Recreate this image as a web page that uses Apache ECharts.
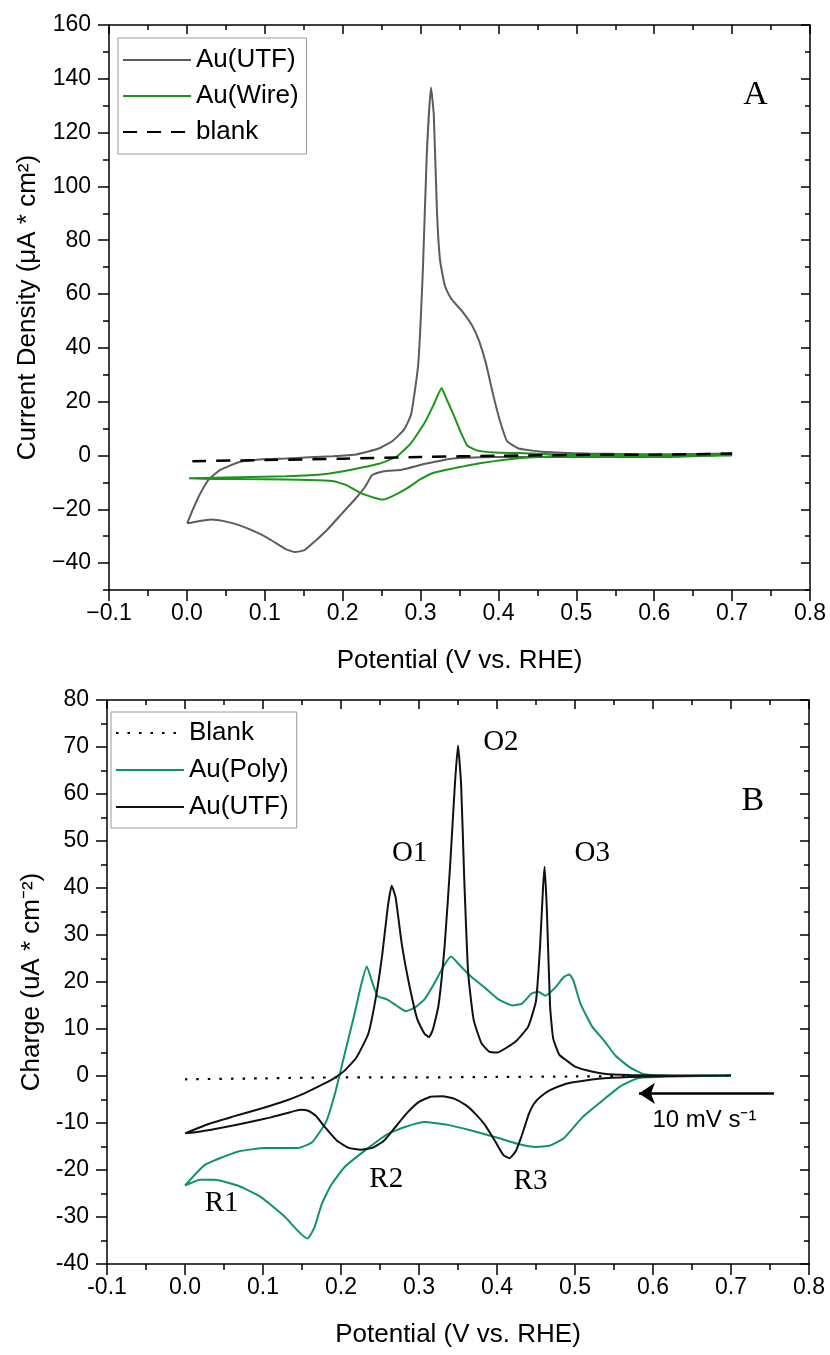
<!DOCTYPE html>
<html>
<head>
<meta charset="utf-8">
<script src="https://cdn.jsdelivr.net/npm/echarts@6/dist/echarts.min.js"></script>
<style>
html,body{margin:0;padding:0;background:#fff;}
#chart{width:830px;height:1355px;}
</style>
</head>
<body>
<div id="chart"></div>
<script>
// ---------- data ----------
const xTicks = [-0.1, 0.0, 0.1, 0.2, 0.3, 0.4, 0.5, 0.6, 0.7, 0.8];
const yTicksA = [-40, -20, 0, 20, 40, 60, 80, 100, 120, 140, 160];
const yTicksB = [-40, -30, -20, -10, 0, 10, 20, 30, 40, 50, 60, 70, 80];

const legendA = ['Au(UTF)', 'Au(Wire)', 'blank'];
const legendB = ['Blank', 'Au(Poly)', 'Au(UTF) '];

// Panel A : Au(UTF) loop (anodic then cathodic)
const utfA = [[0.0004,-25.2],[0.0075,-20.2],[0.0165,-14.5],[0.0284,-8.8],[0.0434,-5.3],[0.0673,-2.4],[0.0971,-1.4],[0.127,-1.1],[0.157,-0.7],[0.187,-0.3],[0.217,0.4],[0.2465,2.6],[0.264,5.4],[0.279,9.7],[0.288,15.4],[0.297,33.8],[0.303,69.2],[0.308,111.9],[0.3134,136.8],[0.317,126.6],[0.321,91.1],[0.325,72.6],[0.331,63.4],[0.339,58.4],[0.345,56.3],[0.354,53.4],[0.366,48.4],[0.375,42.7],[0.384,34.2],[0.393,22.8],[0.402,12.8],[0.411,5.4],[0.426,2.6],[0.456,1.4],[0.515,0.7],[0.605,0.4],[0.699,0.7],
  [0.699,0.4],[0.605,-0.6],[0.485,-0.6],[0.396,-0.6],[0.342,-1.1],[0.306,-3.1],[0.276,-5.3],[0.258,-5.7],[0.2465,-6.3],[0.2375,-7.4],[0.2286,-11.7],[0.2166,-16],[0.1987,-21.7],[0.1808,-27.4],[0.1628,-32.3],[0.1509,-35.2],[0.139,-35.9],[0.127,-34.8],[0.109,-31.6],[0.091,-28.8],[0.067,-25.9],[0.049,-24.5],[0.031,-23.8],[0.0135,-24.5],[0.0004,-25.2]];

// Panel A : Au(Wire) loop
const wireA = [[0.0027,-8.5],[0.067,-8.1],[0.127,-7.7],[0.175,-7],[0.211,-5.3],[0.2465,-3.1],[0.27,-0.3],[0.288,4.7],[0.306,12.5],[0.318,19.6],[0.327,25.1],[0.333,21.2],[0.342,15.4],[0.351,9],[0.36,3.7],[0.372,1.9],[0.396,1.1],[0.426,0.9],[0.485,0.3],[0.699,0.3],
  [0.699,0],[0.485,-0.3],[0.426,-1],[0.378,-2.8],[0.342,-4.8],[0.318,-6.3],[0.3,-8.8],[0.282,-12.3],[0.264,-15.1],[0.2524,-16.4],[0.2405,-15.7],[0.2226,-13.9],[0.2047,-11],[0.1867,-9.5],[0.157,-9.1],[0.097,-8.8],[0.037,-8.7],[0.0027,-8.5]];

// Panel A : blank
const blankA = [[0.007,-2.1],[0.1,-1.7],[0.2,-1.2],[0.3,-0.6],[0.4,-0.1],[0.5,0.2],[0.6,0.3],[0.7,0.7]];

// Panel B : blank
const blankB = [[0.0,-0.7],[0.1,-0.5],[0.2,-0.3],[0.3,-0.3],[0.4,-0.2],[0.5,-0.1],[0.6,0],[0.7,0]];

// Panel B : Au(Poly) loop
const polyB = [[0.0,-23.3],[0.0256,-18.9],[0.0675,-16.1],[0.103,-15.3],[0.145,-15.3],[0.163,-14.1],[0.181,-9.7],[0.193,-3.3],[0.205,4.9],[0.217,13],[0.226,19.5],[0.233,23.3],[0.241,19.5],[0.247,17],[0.259,16.3],[0.271,15],[0.283,13.8],[0.295,14.6],[0.307,16.3],[0.319,19.5],[0.331,23.2],[0.341,25.4],[0.352,23.6],[0.367,21.1],[0.385,18.7],[0.402,16.3],[0.42,15],[0.432,15.4],[0.444,17.5],[0.453,17.9],[0.462,17.1],[0.474,18.7],[0.486,21.1],[0.493,21.6],[0.498,20.3],[0.507,15.4],[0.522,10.5],[0.537,7.6],[0.552,4.3],[0.57,1.9],[0.588,0.4],[0.636,0],[0.7,0.1],
  [0.7,0],[0.582,-0.4],[0.558,-2.2],[0.534,-5.4],[0.51,-8.7],[0.486,-13.2],[0.468,-14.8],[0.45,-15.1],[0.426,-14.4],[0.402,-13.2],[0.367,-11.6],[0.337,-10.4],[0.307,-9.8],[0.283,-10.8],[0.259,-12.4],[0.235,-15.3],[0.205,-19.3],[0.187,-23.3],[0.175,-27.4],[0.166,-32.2],[0.157,-34.6],[0.145,-33],[0.127,-29.8],[0.097,-25.7],[0.0675,-23.3],[0.0376,-22.1],[0.0196,-22.1],[0.0,-23.3]];

// Panel B : Au(UTF) loop
const utfB = [[0.0,-12.2],[0.03,-10.2],[0.06,-8.7],[0.1,-6.8],[0.13,-5.2],[0.15,-3.9],[0.17,-2.3],[0.19,-0.6],[0.205,1.2],[0.22,4],[0.235,9],[0.245,17],[0.253,26],[0.26,36],[0.265,40.5],[0.27,38],[0.278,28],[0.288,19],[0.298,12],[0.307,9],[0.313,8.3],[0.318,10],[0.325,15],[0.333,28],[0.34,45],[0.346,62],[0.35,70.3],[0.354,62],[0.358,42],[0.363,22],[0.37,12],[0.38,7],[0.39,5.2],[0.40,5],[0.41,5.8],[0.425,7.5],[0.44,10.5],[0.45,16],[0.455,27],[0.459,40],[0.461,44.5],[0.464,35],[0.468,15],[0.472,8],[0.48,4.5],[0.49,3.2],[0.5,2],[0.52,1],[0.54,0.4],[0.57,0.2],[0.6,0.1],[0.65,0.1],[0.7,0.1],
  [0.7,0.05],[0.62,0],[0.57,-0.2],[0.53,-0.6],[0.5,-1.3],[0.486,-1.8],[0.468,-3],[0.455,-4.5],[0.447,-6],[0.441,-8],[0.436,-10.5],[0.43,-13.5],[0.424,-16],[0.416,-17.5],[0.408,-16.8],[0.398,-14],[0.385,-10.5],[0.372,-8],[0.36,-6.2],[0.345,-4.8],[0.33,-4.3],[0.315,-4.4],[0.3,-5.5],[0.285,-7.8],[0.27,-10.8],[0.255,-13.8],[0.24,-15.3],[0.225,-15.7],[0.21,-15.3],[0.195,-13.8],[0.18,-11],[0.168,-8.5],[0.158,-7.4],[0.148,-7.2],[0.135,-7.7],[0.11,-8.8],[0.08,-9.9],[0.05,-10.9],[0.02,-11.8],[0.0,-12.2]];

// annotations (data coordinates)
const annotA = [{t:'A', x:0.730, y:134}];
const annotB = [{t:'O1', x:0.288, y:47.4},{t:'O2', x:0.405, y:71},{t:'O3', x:0.522, y:47.4},{t:'B', x:0.728, y:58.4},
                {t:'R1', x:0.047, y:-27.2},{t:'R2', x:0.258, y:-22},{t:'R3', x:0.443, y:-22.4}];
const rateLabel = {t:'10 mV s\u207B\u00B9', x:0.666, y:-9.5};
const arrowB = {x0:0.755, x1:0.582, y:-3.7};

// ---------- chart ----------
const FONT = 'Liberation Sans';
const SERIF = 'Liberation Serif';
const BLACK = '#000';
const fmtMinus = v => { const s = Math.abs(v) < 1e-9 ? '0' : String(Math.round(v)); return s.replace('-', '\u2212'); };
const fmtXA = v => { const s = Math.abs(v) < 1e-9 ? '0.0' : v.toFixed(1); return s.replace('-', '\u2212'); };
const fmtXB = v => Math.abs(v) < 1e-9 ? '0.0' : v.toFixed(1);
const fmtYB = v => Math.abs(v) < 1e-9 ? '0' : String(Math.round(v));

const lineS = {color: BLACK, width: 1.5};
const labelBase = {color: BLACK, fontFamily: FONT, fontSize: 23, showMinLabel: true, showMaxLabel: true};

function xAxes(grid, fmt) {
  return [
    {gridIndex: grid, type: 'value', position: 'bottom', min: -0.1, max: 0.8, interval: 0.1,
     axisLine: {onZero: false, lineStyle: lineS},
     axisTick: {inside: false, length: 11, lineStyle: lineS},
     minorTick: {show: true, splitNumber: 2, length: 6, lineStyle: lineS},
     axisLabel: Object.assign({margin: 12, formatter: fmt}, labelBase),
     splitLine: {show: false}, minorSplitLine: {show: false},
     name: 'Potential (V vs. RHE)', nameLocation: 'middle', nameGap: 58,
     nameTextStyle: {color: BLACK, fontFamily: FONT, fontSize: 26}},
    {gridIndex: grid, type: 'value', position: 'top', min: -0.1, max: 0.8, interval: 0.1,
     axisLine: {onZero: false, lineStyle: lineS},
     axisTick: {inside: true, length: 9, lineStyle: lineS},
     minorTick: {show: true, splitNumber: 2, length: 5, lineStyle: lineS},
     axisLabel: {show: false}, splitLine: {show: false}, minorSplitLine: {show: false}}
  ];
}

const legendCommon = {orient: 'vertical', itemWidth: 68, itemHeight: 14, borderColor: '#9a9a9a', borderWidth: 1,
  selectedMode: false, itemStyle: {opacity: 0, borderWidth: 0},
  textStyle: {color: BLACK, fontFamily: FONT, fontSize: 26, lineHeight: 30}};

const option = {
  animation: false,
  backgroundColor: '#fff',
  grid: [
    {left: 109, right: 20, top: 25, height: 565, containLabel: false, outerBoundsMode: 'none'},
    {left: 107, right: 21, top: 700, height: 564, containLabel: false, outerBoundsMode: 'none'}
  ],
  xAxis: [].concat(xAxes(0, fmtXA), xAxes(1, fmtXB)),
  yAxis: [
    // panel A
    {gridIndex: 0, type: 'value', position: 'left', min: -50, max: 160,
     axisLine: {onZero: false, lineStyle: lineS},
     axisTick: {inside: false, length: 11, customValues: yTicksA, lineStyle: lineS},
     axisLabel: Object.assign({margin: 18, customValues: yTicksA, formatter: fmtMinus}, labelBase),
     splitLine: {show: false},
     name: 'Current Density (\u03BCA * cm\u00B2)', nameLocation: 'middle', nameGap: 62,
     nameTextStyle: {color: BLACK, fontFamily: FONT, fontSize: 26}},
    {gridIndex: 0, type: 'value', position: 'left', min: -50, max: 160, interval: 10,
     axisLine: {show: false, onZero: false}, axisTick: {inside: false, length: 6, lineStyle: lineS},
     axisLabel: {show: false}, splitLine: {show: false}},
    {gridIndex: 0, type: 'value', position: 'right', min: -50, max: 160,
     axisLine: {onZero: false, lineStyle: lineS},
     axisTick: {inside: true, length: 9, customValues: yTicksA, lineStyle: lineS},
     axisLabel: {show: false}, splitLine: {show: false}},
    {gridIndex: 0, type: 'value', position: 'right', min: -50, max: 160, interval: 10,
     axisLine: {show: false, onZero: false}, axisTick: {inside: true, length: 5, lineStyle: lineS},
     axisLabel: {show: false}, splitLine: {show: false}},
    // panel B
    {gridIndex: 1, type: 'value', position: 'left', min: -40, max: 80, interval: 10,
     axisLine: {onZero: false, lineStyle: lineS},
     axisTick: {inside: false, length: 11, lineStyle: lineS},
     minorTick: {show: true, splitNumber: 2, length: 6, lineStyle: lineS},
     axisLabel: Object.assign({margin: 18, formatter: fmtYB}, labelBase),
     splitLine: {show: false}, minorSplitLine: {show: false},
     name: 'Charge (uA * cm\u207B\u00B2)', nameLocation: 'middle', nameGap: 62,
     nameTextStyle: {color: BLACK, fontFamily: FONT, fontSize: 26}},
    {gridIndex: 1, type: 'value', position: 'right', min: -40, max: 80, interval: 10,
     axisLine: {onZero: false, lineStyle: lineS},
     axisTick: {inside: true, length: 9, lineStyle: lineS},
     minorTick: {show: true, splitNumber: 2, length: 5, lineStyle: lineS},
     axisLabel: {show: false}, splitLine: {show: false}, minorSplitLine: {show: false}}
  ],
  legend: [
    Object.assign({data: legendA, left: 118, top: 38, padding: [7, 8, 7, 4], itemGap: 6}, legendCommon),
    Object.assign({data: legendB, left: 111, top: 712, padding: [6, 8, 6, 4], itemGap: 7,
                   formatter: n => n.trim()}, legendCommon)
  ],
  series: [
    {name: 'Au(UTF)', type: 'line', xAxisIndex: 0, yAxisIndex: 0, data: utfA, symbol: 'none', smooth: 0.15,
     lineStyle: {color: '#5c5c5c', width: 2}, itemStyle: {color: '#5c5c5c'}},
    {name: 'Au(Wire)', type: 'line', xAxisIndex: 0, yAxisIndex: 0, data: wireA, symbol: 'none', smooth: 0.15,
     lineStyle: {color: '#1b961b', width: 2}, itemStyle: {color: '#1b961b'}},
    {name: 'blank', type: 'line', xAxisIndex: 0, yAxisIndex: 0, data: blankA, symbol: 'none', smooth: 0.3,
     lineStyle: {color: BLACK, width: 2.5, type: [14, 10]}, itemStyle: {color: BLACK}},
    {name: 'Blank', type: 'line', xAxisIndex: 2, yAxisIndex: 4, data: blankB, symbol: 'none', smooth: 0.3,
     lineStyle: {color: BLACK, width: 2.2, type: [2.5, 9]}, itemStyle: {color: BLACK},
     markLine: {silent: true, symbol: ['none', 'arrow'], symbolSize: 16, label: {show: false},
       lineStyle: {color: BLACK, width: 2.5, type: 'solid'},
       data: [[{coord: [arrowB.x0, arrowB.y]}, {coord: [arrowB.x1, arrowB.y]}]]}},
    {name: 'Au(Poly)', type: 'line', xAxisIndex: 2, yAxisIndex: 4, data: polyB, symbol: 'none', smooth: 0.15,
     lineStyle: {color: '#109465', width: 2}, itemStyle: {color: '#109465'}},
    {name: 'Au(UTF) ', type: 'line', xAxisIndex: 2, yAxisIndex: 4, data: utfB, symbol: 'none', smooth: 0.15,
     lineStyle: {color: '#111', width: 2}, itemStyle: {color: '#111'}}
  ]
};

const chart = echarts.init(document.getElementById('chart'), null, {renderer: 'canvas'});
chart.setOption(option);

// annotations positioned through the axes' own scales
const graphics = [];
function addText(a, finder, font, size) {
  const p = chart.convertToPixel(finder, [a.x, a.y]);
  graphics.push({type: 'text', x: p[0], y: p[1], silent: true,
    style: {text: a.t, fill: BLACK, font: size + 'px "' + font + '"', textAlign: 'center', textVerticalAlign: 'middle'}});
}
annotA.forEach(a => addText(a, {xAxisIndex: 0, yAxisIndex: 0}, SERIF, 34));
annotB.forEach(a => addText(a, {xAxisIndex: 2, yAxisIndex: 4}, SERIF, a.t === 'B' ? 34 : 29));
addText(rateLabel, {xAxisIndex: 2, yAxisIndex: 4}, FONT, 24);
chart.setOption({graphic: graphics});
</script>
</body>
</html>
